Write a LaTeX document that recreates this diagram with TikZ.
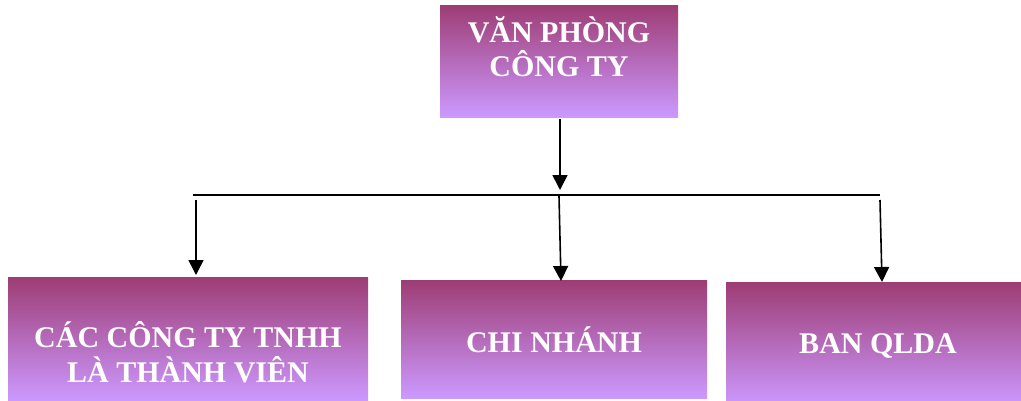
\documentclass[tikz,border=0pt]{standalone}
\usepackage{fontspec}
\setmainfont{Liberation Serif}
\usetikzlibrary{arrows.meta}
\definecolor{mag}{RGB}{153,51,102}
\definecolor{lav}{RGB}{204,153,255}
\pgfdeclareverticalshading{boxshade}{100bp}{color(0bp)=(lav); color(25bp)=(lav); color(80bp)=(mag); color(100bp)=(mag)}
\tikzset{
  orgbox/.style={rectangle, inner sep=0pt, shading=boxshade, draw=none},
  lbl/.style={text=white, font=\bfseries\fontsize{30}{35}\selectfont, align=center, inner sep=0pt, anchor=base},
  conn/.style={line width=1.6pt, black},
  arr/.style={conn, -{Triangle[width=15pt,length=15pt]}}
}
\begin{document}
\begin{tikzpicture}[x=1pt,y=-1pt]
\useasboundingbox (0,0) rectangle (1021,400);
% boxes
\node[orgbox, minimum width=238pt, minimum height=112pt] (topb) at (559,61) {};
\node[orgbox, minimum width=360pt, minimum height=124pt] (left) at (188,339) {};
\node[orgbox, minimum width=306pt, minimum height=118pt] (mid) at (554,339) {};
\node[orgbox, minimum width=296pt, minimum height=124pt] (right) at (874,344) {};
% texts
\node[lbl] (t1) at (559,42) {VĂN PHÒNG};
\node[lbl] (t2) at (559,76) {CÔNG TY};
\node[lbl] (l1) at (188,347) {CÁC CÔNG TY TNHH};
\node[lbl] (l2) at (188,382) {LÀ THÀNH VIÊN};
\node[lbl] (m1) at (554,352) {CHI NHÁNH};
\node[lbl] (r1) at (878,353) {BAN QLDA};
% connectors
\coordinate (bl) at (193,195);
\coordinate (br) at (880,195);
\coordinate (hub) at (560,190);
\coordinate (sl) at (196,200);
\coordinate (sm) at (559,196);
\coordinate (sr) at (880,200);
\coordinate (el) at (196,275);
\coordinate (em) at (561,281);
\coordinate (er) at (882,282);
\draw[arr] (topb.south -| hub) ++(0,2) -- (hub);
\draw[conn] (bl) -- (br);
\draw[arr] (sl) -- (el);
\draw[arr] (sm) -- (em);
\draw[arr] (sr) -- (er);
\end{tikzpicture}
\end{document}
